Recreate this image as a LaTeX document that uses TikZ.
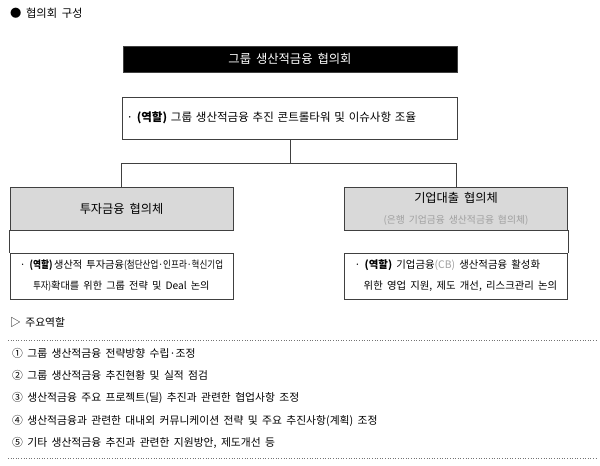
\documentclass[tikz,border=0pt]{standalone}
\usepackage{fontspec}
\usepackage{graphicx}
\setmainfont[WordSpace=1.8]{Noto Sans CJK KR}
\usetikzlibrary{positioning}
\definecolor{hdgray}{HTML}{D9D9D9}
\definecolor{lnegray}{HTML}{404040}
\definecolor{subgray}{HTML}{A0A0A0}

\begin{document}
\begin{tikzpicture}[x=1pt, y=-1pt,
  box/.style={draw=lnegray, line width=0.7pt, inner sep=0pt,
              font=\fontsize{10.5}{13}\selectfont},
  headbox/.style={box, fill=hdgray, minimum width=223pt, minimum height=43pt,
                  align=center},
  rolebox/.style={box, fill=white, minimum width=223pt, minimum height=46pt},
  conn/.style={lnegray, line width=0.7pt},
  dotline/.style={black!55, dotted, line width=0.6pt},
  txt/.style={anchor=west, inner sep=0pt, font=\fontsize{10.8}{13}\selectfont}
]
\fill[white] (0,0) rectangle (600,466);
\useasboundingbox (0,0) rectangle (600,466);
\node[txt, font=\fontsize{11.3}{13}\selectfont] (title) at (10,13) {● 협의회 구성};
\node[box, fill=black, text=white, minimum width=334pt, minimum height=26pt,
      font=\fontsize{12.3}{14}\selectfont] (grp) at (290,59) {그룹 생산적금융 협의회};
\node[box, minimum width=335pt, minimum height=42pt, text width=327pt, align=left,
      font=\fontsize{11.5}{14}\selectfont]
  (grprole) at (290,118) {· \textbf{(역할)} 그룹 생산적금융 추진 콘트롤타워 및 이슈사항 조율};
\coordinate (split) at (290,163);
\node[headbox, font=\fontsize{12.2}{14}\selectfont] (invhead) at (121.5,208.5) {투자금융 협의체};
\node[rolebox, align=center, font=\fontsize{10.2}{21}\selectfont] (invrole) at (121.5,276)
  {· \scalebox{0.85}[1]{\textbf{(역할)}}\,생산적 투자금융\scalebox{0.84}[1]{(첨단산업·인프라·혁신기업}\\
   \scalebox{0.8}[1]{투자)}확대를 위한 그룹 전략 및 Deal 논의};
\node[headbox, font=\fontsize{12.2}{21}\selectfont] (loanhead) at (456,208.5)
  {기업대출 협의체\\{\fontsize{9.8}{11}\selectfont\color{subgray}(은행 기업금융 생산적금융 협의체)}};
\node[rolebox, align=left, font=\fontsize{10.4}{21}\selectfont] (loanrole) at (456,276)
  {· \textbf{(역할)} 기업금융{\color{subgray}(CB)} 생산적금융 활성화\\
   \hspace{9pt}위한 영업 지원, 제도 개선, 리스크관리 논의};
\draw[conn] (grprole.south) -- (split);
\draw[conn] (split) -| (invhead.north);
\draw[conn] (split) -| (loanhead.north);
\draw[conn] (invhead.south west) -- (invrole.north west);
\draw[conn] (loanhead.south east) -- (loanrole.north east);
\node[txt] (roles) at (10,322) {▷ 주요역할};
\coordinate (dtl) at (8,340);
\coordinate (dtr) at (598,340);
\coordinate (dbl) at (8,458);
\coordinate (dbr) at (598,458);
\draw[dotline] (dtl) -- (dtr);
\draw[dotline] (dbl) -- (dbr);
\node[txt] (item1) at (12,353) {① 그룹 생산적금융 전략방향 수립·조정};
\node[txt] (item2) at (12,375) {② 그룹 생산적금융 추진현황 및 실적 점검};
\node[txt] (item3) at (12,398) {③ 생산적금융 주요 프로젝트(딜) 추진과 관련한 협업사항 조정};
\node[txt] (item4) at (12,421) {④ 생산적금융과 관련한 대내외 커뮤니케이션 전략 및 주요 추진사항(계획) 조정};
\node[txt] (item5) at (12,443) {⑤ 기타 생산적금융 추진과 관련한 지원방안, 제도개선 등};
\end{tikzpicture}
\end{document}
